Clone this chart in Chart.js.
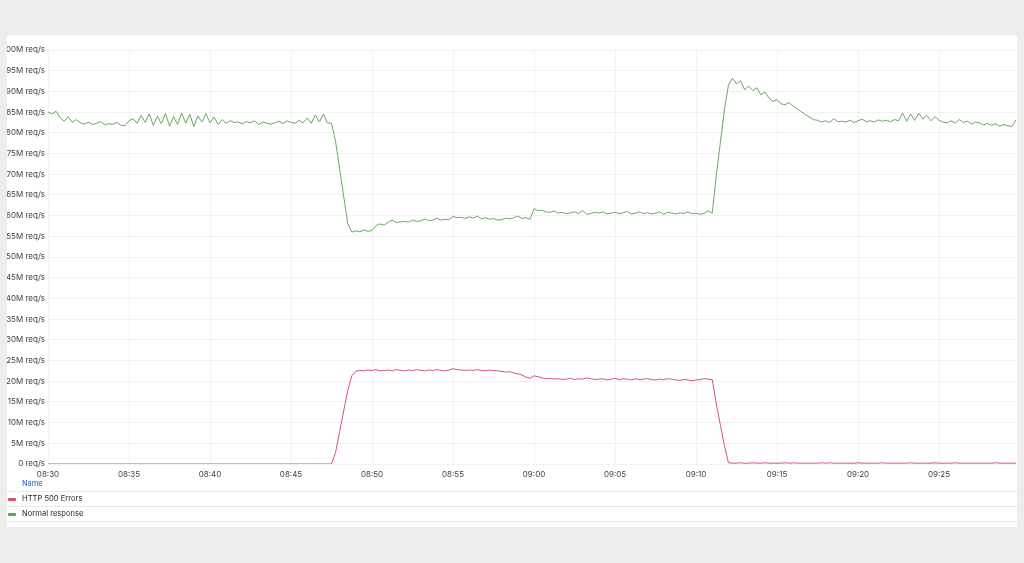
<!DOCTYPE html>
<html><head><meta charset="utf-8">
<script src="https://cdn.jsdelivr.net/npm/chart.js@4.4.1/dist/chart.umd.min.js"></script>
<style>
html,body{margin:0;padding:0;background:#ededeb;width:1024px;height:563px;overflow:hidden;font-family:Inter,'Noto Sans',sans-serif;}
#panel{position:absolute;left:7px;top:35px;width:1010px;height:492px;background:#fff;}
#wrap{position:absolute;left:0;top:0;width:1010px;height:445px;}
#legend{position:absolute;left:0;top:442px;width:1010px;font-size:7.6px;color:#24292e;}
.row{height:14px;line-height:14px;border-bottom:1px solid #e8e8e8;position:relative;padding-left:15px;white-space:nowrap;}
.hdr{color:#3871dc;font-weight:500;font-size:7.4px;}
.sw{position:absolute;left:1px;top:6px;width:8px;height:3px;border-radius:1px;}
</style></head>
<body>
<div id="panel">
  <div id="wrap"><canvas id="c"></canvas></div>
  <div id="legend">
    <div class="row hdr">Name</div>
    <div class="row"><span class="sw" style="background:#d4566c"></span><span id="l0"></span></div>
    <div class="row"><span class="sw" style="background:#5fa456"></span><span id="l1"></span></div>
  </div>
</div>
<script>
const seriesNames = ['HTTP 500 Errors', 'Normal response'];
const stepMinutes = 0.25;          // one sample every 15 s, starting 08:30
const xTickLabels = ['08:30','08:35','08:40','08:45','08:50','08:55','09:00','09:05','09:10','09:15','09:20','09:25'];
const yUnit = 'M req/s';

// one row per minute (4 samples), 08:30 .. 09:30
const normalResponse = [
  85.0,84.6,85.2,83.6, 82.8,83.9,82.5,83.2, 82.4,82.1,82.6,82.0, 82.3,82.7,81.9,82.2, 82.0,82.5,81.8,81.7,
  82.9,83.4,82.3,84.2, 82.5,84.6,81.8,84.0, 82.2,84.7,81.6,83.9, 82.0,84.8,82.3,84.5, 81.5,84.1,82.6,84.6,
  82.4,83.8,82.0,83.2, 82.3,82.9,82.5,82.6, 82.2,82.7,82.4,82.9, 82.0,82.6,82.3,82.1, 82.4,82.8,82.2,82.9,
  82.5,82.3,83.0,82.4, 83.6,82.3,84.3,82.6, 84.5,82.4,82.3,77.9, 71.3,64.7,58.1,56.0, 56.3,56.1,56.5,56.2,
  56.4,57.6,58.0,57.7, 58.4,58.9,58.3,58.5, 58.6,58.4,58.9,58.6, 58.7,59.2,58.8,58.9, 59.4,58.9,59.1,59.0,
  59.8,59.5,59.6,59.3, 59.7,59.4,59.9,59.2, 59.5,59.1,59.3,58.9, 59.0,59.4,59.2,59.5, 59.9,59.3,59.5,59.1,
  61.7,61.2,61.3,60.9, 60.8,61.1,60.6,60.8, 60.4,60.7,60.9,60.5, 61.2,60.3,60.5,60.8, 60.6,60.9,60.4,60.6,
  60.8,60.5,60.7,61.0, 60.4,60.6,60.9,60.5, 60.7,60.4,60.6,60.9, 60.3,60.8,60.6,60.4, 60.7,60.5,60.9,60.4,
  60.6,60.3,60.5,61.2, 60.6,69.7,77.6,85.5, 91.5,93.2,91.8,92.6, 90.4,91.3,90.2,90.9, 89.2,89.9,88.4,87.6,
  88.0,87.0,86.8,87.3, 86.4,85.8,85.1,84.4, 83.8,83.2,83.0,82.6, 82.9,82.5,83.4,82.7, 82.8,82.6,83.0,82.5,
  82.9,83.3,82.7,82.9, 82.6,83.1,82.8,83.0, 82.7,83.2,82.9,84.8, 82.8,84.5,83.0,84.7, 83.3,84.2,82.9,83.9,
  83.0,82.6,82.4,82.9, 82.3,83.2,82.5,82.8, 82.1,82.6,82.4,81.9, 82.3,81.8,82.2,81.6, 82.0,81.7,81.5,83.2,
  82.4
];
const httpErrors = [
  0,0,0,0, 0,0,0,0, 0,0,0,0, 0,0,0,0, 0,0,0,0,
  0,0,0,0, 0,0,0,0, 0,0,0,0, 0,0,0,0, 0,0,0,0,
  0,0,0,0, 0,0,0,0, 0,0,0,0, 0,0,0,0, 0,0,0,0,
  0,0,0,0, 0,0,0,0, 0,0,0,2.8, 7.8,12.8,17.7,21.3, 22.4,22.6,22.5,22.7,
  22.6,22.8,22.5,22.6, 22.7,22.5,22.8,22.6, 22.5,22.7,22.6,22.8, 22.6,22.5,22.7,22.6, 22.8,22.6,22.5,22.7,
  23.0,22.8,22.7,22.6, 22.7,22.6,22.8,22.6, 22.5,22.7,22.6,22.5, 22.4,22.2,22.3,22.0, 21.8,21.5,21.0,20.7,
  21.3,21.1,20.8,20.6, 20.7,20.5,20.6,20.4, 20.5,20.7,20.4,20.6, 20.5,20.8,20.6,20.4, 20.5,20.6,20.3,20.5,
  20.7,20.4,20.6,20.5, 20.3,20.6,20.4,20.5, 20.6,20.4,20.3,20.5, 20.4,20.6,20.5,20.3, 20.2,20.4,20.3,20.1,
  20.3,20.4,20.6,20.5, 20.4,14.5,9.5,4.5, 0.3,0.2,0.2,0.3, 0.2,0.2,0.3,0.2, 0.2,0.3,0.2,0.2,
  0.2,0.2,0.3,0.2, 0.3,0.2,0.2,0.2, 0.2,0.2,0.2,0.3, 0.2,0.3,0.2,0.2, 0.2,0.2,0.2,0.2,
  0.3,0.2,0.2,0.2, 0.2,0.2,0.3,0.2, 0.2,0.2,0.2,0.2, 0.2,0.3,0.2,0.2, 0.2,0.2,0.2,0.3,
  0.2,0.2,0.2,0.2, 0.3,0.2,0.2,0.2, 0.2,0.2,0.2,0.2, 0.2,0.2,0.3,0.2, 0.2,0.2,0.2,0.2,
  0.2
];

document.getElementById('l0').textContent = seriesNames[0];
document.getElementById('l1').textContent = seriesNames[1];

const toPoints = arr => arr.map((v, i) => ({ x: i * stepMinutes, y: v }));

Chart.defaults.font.family = "Inter, 'Noto Sans', sans-serif";
Chart.defaults.font.size = 8;
Chart.defaults.color = '#3b3f45';

new Chart(document.getElementById('c'), {
  type: 'line',
  data: {
    datasets: [
      { label: seriesNames[1], data: toPoints(normalResponse), borderColor: '#6aa662', borderWidth: 1, pointRadius: 0, tension: 0 },
      { label: seriesNames[0], data: toPoints(httpErrors), borderColor: '#d4566c', borderWidth: 1, pointRadius: 0, tension: 0 }
    ]
  },
  options: {
    responsive: true,
    maintainAspectRatio: false,
    animation: false,
    layout: { padding: { top: 15, right: 1, bottom: 0, left: 0 } },
    plugins: { legend: { display: false }, tooltip: { enabled: false } },
    scales: {
      x: {
        type: 'linear', min: 0, max: 59.75,
        border: { display: false },
        grid: { color: 'rgba(0,0,0,0.05)', drawTicks: false },
        ticks: {
          stepSize: 5, includeBounds: false, padding: 6, maxRotation: 0, autoSkip: false,
          callback: v => xTickLabels[Math.round(v / 5)] || ''
        },
        afterFit: s => { s.height = 16; }
      },
      y: {
        min: 0, max: 100,
        border: { display: false },
        grid: { color: 'rgba(0,0,0,0.05)', drawTicks: false },
        ticks: {
          stepSize: 5, padding: 3,
          callback: v => v === 0 ? '0 req/s' : v + yUnit
        },
        afterFit: s => { s.width = 41; }
      }
    }
  }
});
</script>
</body></html>
